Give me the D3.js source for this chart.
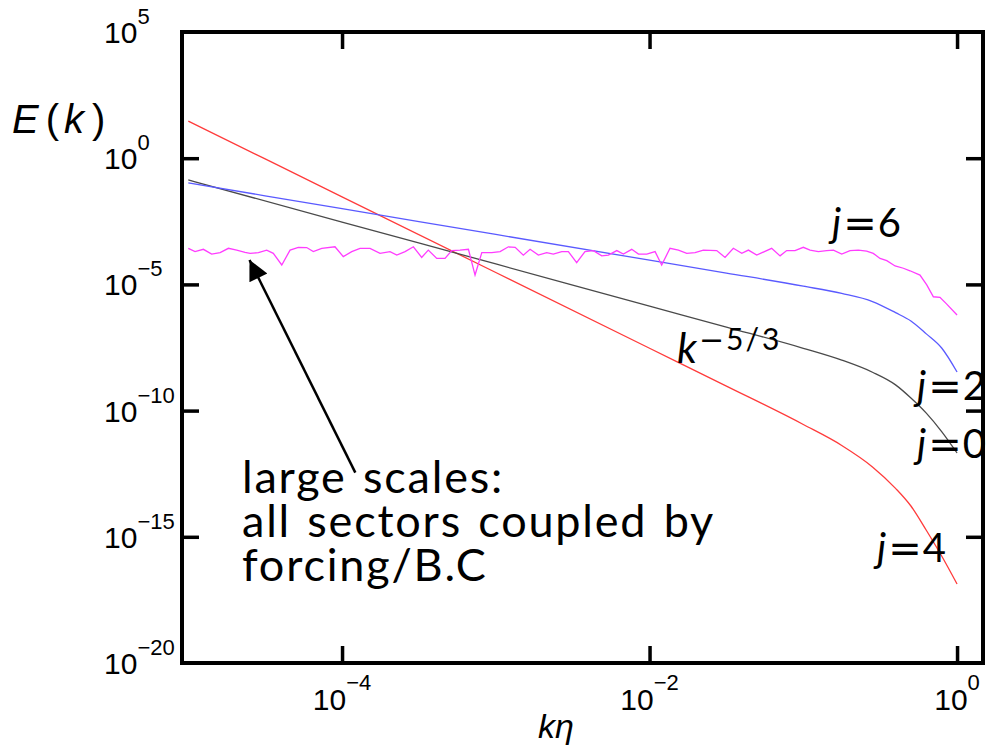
<!DOCTYPE html>
<html>
<head>
<meta charset="utf-8">
<script src="https://cdn.jsdelivr.net/npm/d3@7"></script>
<style>
body { margin: 0; background: #fff; }
svg { display: block; }
.num { font-family: "Liberation Sans", Arial, sans-serif; fill: #000; }
.note { font-family: Lato, "Open Sans", sans-serif; fill: #000; }
.wide { font-family: "DejaVu Sans", sans-serif; }
.tick line { stroke: #000; stroke-width: 3.5; }
.curve { fill: none; stroke-width: 1.3; }
</style>
</head>
<body>
<svg width="1003" height="745"></svg>
<script>
// 目盛り
const xTicks = [1e-4, 1e-2, 1];
const xTickExp = ["\u22124", "\u22122", "0"];
const yTicks = [1e5, 1e0, 1e-5, 1e-10, 1e-15, 1e-20];
const yTickExp = ["5", "0", "\u22125", "\u221210", "\u221215", "\u221220"];

// 滑らかな曲線のサンプル点 (log10 kη)
const kExp = [-5, -4, -3, -2, -1.5, -1, -0.75, -0.55, -0.4, -0.3, -0.2, -0.1, 0];
// 各セクターの log10 E(k)
const j4Exp = [1.47, -1.53, -4.53, -7.53, -9.03, -10.55, -11.38, -12.23, -13.08, -13.78, -14.74, -15.76, -16.87];
const j0Exp = [-0.86, -2.53, -4.19, -5.86, -6.69, -7.53, -8.0, -8.48, -8.98, -9.50, -10.10, -10.83, -11.68];
const j2Exp = [-0.98, -2.00, -3.02, -4.04, -4.55, -5.07, -5.36, -5.68, -6.12, -6.45, -6.96, -7.52, -8.47];

// j=6 (ノイズのある曲線)
const j6K = [
  -5.000, -4.956, -4.902, -4.848, -4.793, -4.739, -4.685, -4.631, -4.598, -4.544,
  -4.490, -4.447, -4.392, -4.338, -4.284, -4.230, -4.187, -4.132, -4.046, -3.992,
  -3.937, -3.883, -3.818, -3.753, -3.688, -3.644, -3.590, -3.536, -3.482, -3.439,
  -3.384, -3.330, -3.287, -3.233, -3.178, -3.135, -3.091, -3.026, -2.972, -2.918,
  -2.874, -2.821, -2.777, -2.723, -2.669, -2.626, -2.571, -2.528, -2.474, -2.420,
  -2.365, -2.311, -2.268, -2.213, -2.170, -2.116, -2.072, -2.018, -1.964, -1.921,
  -1.867, -1.812, -1.758, -1.704, -1.650, -1.563, -1.509, -1.455, -1.400, -1.357,
  -1.303, -1.206, -1.151, -1.108, -1.054, -1.000, -0.956, -0.902, -0.848, -0.804,
  -0.750, -0.696, -0.642, -0.588, -0.545, -0.501, -0.457, -0.403, -0.349, -0.306,
  -0.241, -0.197, -0.154, -0.111, -0.067, 0.000
];
const j6E = [
  -3.57, -3.70, -3.61, -3.80, -3.74, -3.57, -3.64, -3.73, -3.77, -3.74,
  -3.64, -3.77, -4.23, -3.64, -3.53, -3.54, -3.70, -3.57, -3.51, -3.90,
  -3.70, -3.57, -3.57, -3.77, -3.70, -3.84, -3.70, -3.51, -3.93, -3.64,
  -3.97, -3.97, -3.66, -3.64, -3.61, -4.63, -3.74, -3.74, -3.70, -3.51,
  -3.53, -3.84, -3.61, -3.84, -3.74, -3.80, -3.70, -3.70, -4.14, -3.70,
  -3.66, -3.87, -3.84, -3.66, -3.80, -3.61, -3.80, -3.80, -3.70, -4.23,
  -3.57, -3.64, -3.77, -3.74, -3.64, -3.66, -3.93, -3.57, -3.77, -3.64,
  -3.84, -3.57, -3.87, -3.66, -3.66, -3.53, -3.64, -3.70, -3.66, -3.64,
  -3.80, -3.66, -3.64, -3.68, -3.77, -3.97, -4.06, -4.27, -4.36, -4.46,
  -4.63, -5.02, -5.49, -5.51, -5.78, -6.21
];

// 矢印 (データ座標)
const arrowTail = [1.22e-4, 3.5e-13];
const arrowTip = [2.5e-5, 9.3e-5];

const plotLeft = 182, plotTop = 32, plotRight = 983, plotBottom = 663;

const svg = d3.select("svg");

const x = d3.scaleLog().domain([9.1e-6, 1.475]).range([plotLeft, plotRight]);
const y = d3.scaleLog().domain([1e-20, 1e5]).range([plotBottom, plotTop]);

const toPts = (ks, es) => ks.map((k, i) => [Math.pow(10, k), Math.pow(10, es[i])]);

const smooth = d3.line().x(d => x(d[0])).y(d => y(d[1])).curve(d3.curveMonotoneX);
const straight = d3.line().x(d => x(d[0])).y(d => y(d[1]));

// 曲線を描画
const series = [
  { pts: toPts(kExp, j4Exp), color: "#ff3b3b", line: smooth },
  { pts: toPts(kExp, j0Exp), color: "#4a4a4a", line: smooth },
  { pts: toPts(kExp, j2Exp), color: "#5a5aff", line: smooth },
  { pts: toPts(j6K, j6E), color: "#ff3cff", line: straight }
];
svg.selectAll(".curve")
  .data(series)
  .enter().append("path")
  .attr("class", "curve")
  .attr("stroke", d => d.color)
  .attr("d", d => d.line(d.pts));

// 目盛り線 (内向き)
const yInner = yTicks.slice(1, -1);
svg.append("g").attr("transform", `translate(0,${plotBottom})`)
  .call(d3.axisBottom(x).tickValues(xTicks).tickSize(-17).tickFormat(""));
svg.append("g").attr("transform", `translate(0,${plotTop})`)
  .call(d3.axisTop(x).tickValues(xTicks).tickSize(-17).tickFormat(""));
svg.append("g").attr("transform", `translate(${plotLeft},0)`)
  .call(d3.axisLeft(y).tickValues(yInner).tickSize(-17).tickFormat(""));
svg.append("g").attr("transform", `translate(${plotRight},0)`)
  .call(d3.axisRight(y).tickValues(yInner).tickSize(-17).tickFormat(""));
svg.selectAll(".domain").remove();

// 枠
svg.append("rect")
  .attr("x", plotLeft).attr("y", plotTop)
  .attr("width", plotRight - plotLeft).attr("height", plotBottom - plotTop)
  .attr("fill", "none").attr("stroke", "#000").attr("stroke-width", 4);

// 目盛りラベル
xTicks.forEach((v, i) => {
  const t = svg.append("text").attr("class", "num")
    .attr("x", x(v)).attr("y", 710).attr("text-anchor", "middle");
  t.append("tspan").attr("font-size", 30).text("10");
  t.append("tspan").attr("font-size", 22).attr("dy", -20).text(xTickExp[i]);
});
yTicks.forEach((v, i) => {
  const t = svg.append("text").attr("class", "num")
    .attr("x", 104).attr("y", y(v) + 11);
  t.append("tspan").attr("font-size", 30).text("10");
  t.append("tspan").attr("font-size", 22).attr("dy", -19).text(yTickExp[i]);
});

// 軸ラベル
const ey = svg.append("text").attr("class", "num").attr("x", 12).attr("y", 133).attr("font-size", 40);
ey.append("tspan").attr("font-style", "italic").text("E");
ey.append("tspan").attr("dx", 7).text("(");
ey.append("tspan").attr("dx", 5).attr("font-style", "italic").text("k");
ey.append("tspan").attr("dx", 8).text(")");

svg.append("text").attr("class", "num")
  .attr("x", 556).attr("y", 738).attr("text-anchor", "middle")
  .attr("font-size", 34).attr("font-style", "italic").text("k\u03b7");

// 曲線ラベル
const jLabels = [
  { j: "6", x: 832, y: 237 },
  { j: "2", x: 917, y: 400 },
  { j: "0", x: 917, y: 458 },
  { j: "4", x: 877, y: 562 }
];
jLabels.forEach(d => {
  const t = svg.append("text").attr("class", "note")
    .attr("x", d.x).attr("y", d.y).attr("font-size", 40);
  t.append("tspan").attr("font-style", "italic").text("j");
  t.append("tspan").attr("class", "wide").attr("dx", 2).text("=");
  t.append("tspan").attr("dx", 1).text(d.j);
});

const kl = svg.append("text").attr("class", "note").attr("x", 677).attr("y", 363);
kl.append("tspan").attr("font-size", 42).attr("font-style", "italic").text("k");
kl.append("tspan").attr("class", "wide").attr("font-size", 30).attr("dx", 2).attr("dy", -13).text("\u2212");
kl.append("tspan").attr("font-size", 30).attr("dx", 2).text("5");
kl.append("tspan").attr("font-size", 30).attr("dx", 2).text("/");
kl.append("tspan").attr("font-size", 30).attr("dx", 3).text("3");

// 注釈
const noteLines = ["large scales:", "all sectors coupled by", "forcing/B.C"];
svg.selectAll(".noteLine")
  .data(noteLines)
  .enter().append("text")
  .attr("class", "note noteLine")
  .attr("x", 242)
  .attr("y", (d, i) => 493 + i * 44)
  .attr("font-size", 45)
  .attr("letter-spacing", 1.8)
  .attr("word-spacing", 3)
  .text(d => d);

// 矢印
svg.append("defs").append("marker")
  .attr("id", "head")
  .attr("viewBox", "0 -5 10 10")
  .attr("refX", 10).attr("refY", 0)
  .attr("markerWidth", 10).attr("markerHeight", 8)
  .attr("markerUnits", "strokeWidth")
  .attr("orient", "auto")
  .append("path").attr("d", "M0,-5L10,0L0,5Z").attr("fill", "#000");

svg.append("line")
  .attr("x1", x(arrowTail[0])).attr("y1", y(arrowTail[1]))
  .attr("x2", x(arrowTip[0])).attr("y2", y(arrowTip[1]))
  .attr("stroke", "#000").attr("stroke-width", 2.5)
  .attr("marker-end", "url(#head)");
</script>
</body>
</html>
